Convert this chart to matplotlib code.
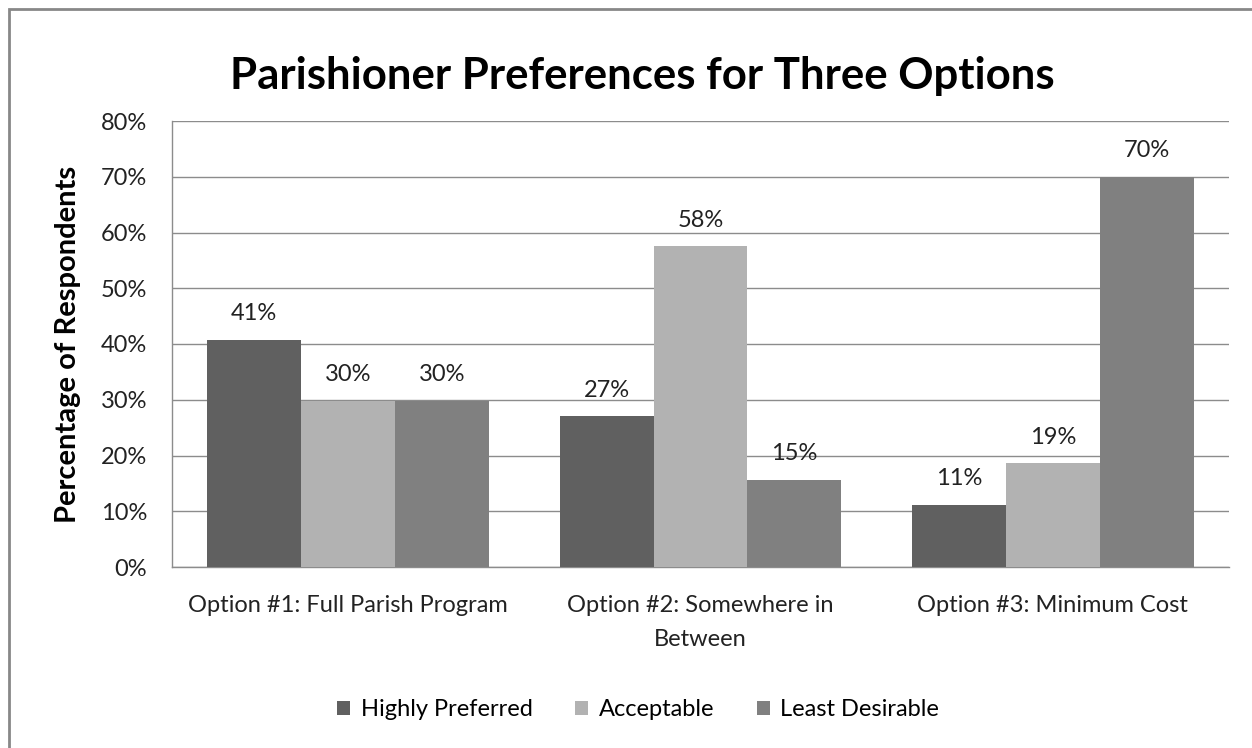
import matplotlib
matplotlib.use("Agg")
import matplotlib.pyplot as plt
import numpy as np
from matplotlib.patches import Rectangle

categories = ["Option #1: Full Parish Program", "Option #2: Somewhere in\nBetween", "Option #3: Minimum Cost"]
series_names = ["Highly Preferred", "Acceptable", "Least Desirable"]
highly_preferred = [40.7, 27.0, 11.2]
acceptable = [29.8, 57.5, 18.6]
least_desirable = [29.8, 15.6, 70.0]
labels_hp = ["41%", "27%", "11%"]
labels_ac = ["30%", "58%", "19%"]
labels_ld = ["30%", "15%", "70%"]
yticks = [0, 10, 20, 30, 40, 50, 60, 70, 80]

colors = ["#606060", "#b2b2b2", "#808080"]
plt.rcParams['font.family'] = ['Lato', 'DejaVu Sans']
FS = 17

W, H = 1252, 748
fig = plt.figure(figsize=(W/100, H/100), dpi=100)
fig.patches.append(Rectangle((9/W, -0.1), 1.2, 1 - 9/H + 0.1, transform=fig.transFigure,
                             fill=False, edgecolor="#888888", linewidth=2))

ax = fig.add_axes([172/W, 1 - 567/H, (1229-172)/W, (567-121)/H])
x = np.arange(len(categories))
w = 1/3.75
data = [highly_preferred, acceptable, least_desirable]
labs = [labels_hp, labels_ac, labels_ld]
for i, (vals, lb) in enumerate(zip(data, labs)):
    pos = x + (i - 1) * w
    ax.bar(pos, vals, width=w, color=colors[i], label=series_names[i], zorder=3)
    for p, v, t in zip(pos, vals, lb):
        ax.text(p, v + 4.7, t, ha="center", va="center", fontsize=FS, color="#222222")

ax.set_xlim(-0.5, 2.5)
ax.set_ylim(0, 80)
ax.set_yticks(yticks)
ax.set_yticklabels([f"{t}%" for t in yticks], fontsize=FS, color="#222222")
ax.yaxis.grid(True, color="#8c8c8c", linewidth=1, zorder=0)
ax.set_xticks(x)
ax.set_xticklabels(categories, fontsize=FS, color="#222222", linespacing=1.75)
ax.tick_params(axis="y", length=0, pad=18)
ax.tick_params(axis="x", length=0, pad=20)
for s in ["top", "right"]:
    ax.spines[s].set_visible(False)
for s in ["left", "bottom"]:
    ax.spines[s].set_color("#8c8c8c")
    ax.spines[s].set_linewidth(1)

ax.set_ylabel("Percentage of Respondents", fontsize=21, fontweight="bold", labelpad=14)
fig.text(642/W, 1 - 76/H, "Parishioner Preferences for Three Options", ha="center", va="center",
         fontsize=31.5, fontweight="bold")

fig.legend(loc="center", bbox_to_anchor=(638/W, 1 - 710/H), ncol=3, frameon=False,
           fontsize=FS, handlelength=0.55, handleheight=0.55, handletextpad=0.45,
           columnspacing=1.8)

fig.savefig("out.png", dpi=100)
